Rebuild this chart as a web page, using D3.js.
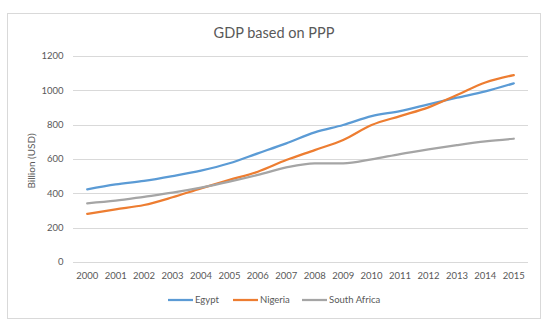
<!DOCTYPE html>
<html><head><meta charset="utf-8">
<script src="https://cdn.jsdelivr.net/npm/d3@7"></script>
<style>body{margin:0;background:#fff;}svg{display:block;font-family:Lato,"Open Sans",sans-serif;}</style>
</head><body><svg id="c" width="555" height="327"></svg>
<script>
const years = ["2000","2001","2002","2003","2004","2005","2006","2007","2008","2009","2010","2011","2012","2013","2014","2015"];
const egypt = [423,452,472,500,532,575,633,691,755,798,850,879,918,957,994,1041];
const nigeria = [280,307,332,377,429,478,526,594,652,711,798,850,901,973,1046,1089];
const southAfrica = [342,357,380,404,433,468,507,551,575,575,598,629,656,681,703,718];
const yTicks = [0,200,400,600,800,1000,1200];
const seriesNames = ["Egypt","Nigeria","South Africa"];
const colors = ["#5B9BD5","#ED7D31","#A5A5A5"];
const seriesData = [egypt, nigeria, southAfrica];

const svg = d3.select("#c");
svg.append("rect").attr("x",7.5).attr("y",13.5).attr("width",533).attr("height",305)
  .attr("fill","#fff").attr("stroke","#d9d9d9");

const x = d3.scaleBand().domain(years).range([73,528]);
const y = d3.scaleLinear().domain([0,1200]).range([262,56]);

svg.append("g").selectAll("line").data(yTicks).join("line")
  .attr("x1",73).attr("x2",528).attr("y1",d=>Math.round(y(d))+0.5).attr("y2",d=>Math.round(y(d))+0.5)
  .attr("stroke","#d9d9d9").attr("stroke-width",1);

svg.append("g").selectAll("text").data(yTicks).join("text")
  .attr("x",63.5).attr("y",d=>y(d)).attr("dy","0.35em").attr("text-anchor","end")
  .attr("font-size",9.5).attr("fill","#595959").text(d=>d);

svg.append("g").selectAll("text").data(years).join("text")
  .attr("x",d=>x(d)+x.bandwidth()/2).attr("y",276).attr("dy","0.35em").attr("text-anchor","middle")
  .attr("font-size",9.5).attr("fill","#595959").text(d=>d);

svg.append("text").attr("transform","translate(31,161) rotate(-90)").attr("text-anchor","middle")
  .attr("dy","0.35em").attr("font-size",10).attr("fill","#595959").text("Billion (USD)");

svg.append("text").attr("x",274).attr("y",33).attr("text-anchor","middle").attr("dy","0.35em")
  .attr("font-size",14.5).attr("fill","#595959").text("GDP based on PPP");

const line = d3.line().x((d,i)=>x(years[i])+x.bandwidth()/2).y(d=>y(d)).curve(d3.curveMonotoneX);
seriesData.forEach((s,k)=>{
  svg.append("path").attr("d",line(s)).attr("fill","none").attr("stroke",colors[k])
    .attr("stroke-width",2.25).attr("stroke-linecap","round").attr("stroke-linejoin","round");
});

const legX = [168,233,302];
const lg = svg.append("g");
seriesNames.forEach((n,k)=>{
  lg.append("line").attr("x1",legX[k]).attr("x2",legX[k]+25).attr("y1",300).attr("y2",300)
    .attr("stroke",colors[k]).attr("stroke-width",2.25);
  lg.append("text").attr("x",legX[k]+27).attr("y",300).attr("dy","0.35em")
    .attr("font-size",9.5).attr("fill","#595959").text(n);
});
</script></body></html>
